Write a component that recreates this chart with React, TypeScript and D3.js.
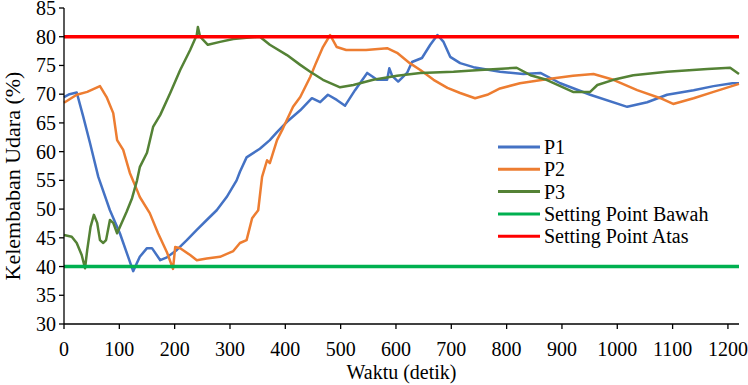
import * as d3 from 'd3';

const WIDTH = 748;
const HEIGHT = 385;
const MARGIN = { top: 8, right: 9, bottom: 61, left: 64 };
const FONT = 'Liberation Serif, serif';

// time (s), humidity (%)
const P1: [number, number][] = [
  [0, 69.5], [10, 70], [23, 70.3], [35, 66], [47, 61.5], [62, 55.6], [83, 49.8], [101, 45.8],
  [125, 39.2], [137, 41.7], [150, 43.2], [159, 43.2], [174, 41.1], [186, 41.6], [204, 42.9],
  [222, 44.6], [240, 46.4], [258, 48.1], [276, 49.8], [294, 52.1], [312, 55], [318, 56.5],
  [330, 59], [354, 60.5], [372, 62], [385, 63.4], [403, 65.2], [427, 67.2], [448, 69.3],
  [463, 68.6], [477, 69.9], [493, 69], [508, 68], [526, 70.7], [548, 73.7], [566, 72.5],
  [584, 72.5], [588, 74.5], [593, 73.2], [604, 72.2], [620, 73.7], [629, 75.6], [647, 76.3],
  [662, 78.6], [675, 80.3], [686, 79.1], [698, 76.5], [716, 75.4], [740, 74.7], [788, 73.9],
  [830, 73.5], [861, 73.7], [897, 71.9], [951, 69.9], [1018, 67.8], [1054, 68.6], [1090, 69.9],
  [1138, 70.7], [1174, 71.4], [1208, 71.9], [1220, 71.9],
];

const P2: [number, number][] = [
  [0, 68.5], [23, 69.9], [42, 70.4], [65, 71.4], [77, 69.5], [89, 66.7], [96, 62], [107, 60.3],
  [119, 56.3], [132, 53.3], [137, 52.1], [155, 49.3], [170, 45.8], [186, 42.5], [197, 39.6],
  [201, 43.4], [210, 43.2], [228, 42], [240, 41.1], [258, 41.4], [282, 41.7], [306, 42.7],
  [318, 44.1], [330, 44.6], [340, 48.4], [351, 49.8], [358, 55.6], [367, 58.5], [372, 58],
  [385, 62], [396, 64.1], [414, 67.8], [427, 69.5], [445, 73], [454, 75.1], [468, 78.2],
  [481, 80.3], [493, 78.2], [510, 77.7], [546, 77.7], [584, 78], [602, 77.2], [625, 75.4],
  [644, 74.2], [668, 72.5], [693, 71.1], [716, 70.2], [743, 69.3], [765, 69.9], [788, 71],
  [824, 71.9], [872, 72.6], [920, 73.2], [957, 73.5], [993, 72.5], [1036, 70.7], [1078, 69.3],
  [1101, 68.3], [1138, 69.3], [1174, 70.4], [1220, 71.8],
];

const P3: [number, number][] = [
  [0, 45.5], [14, 45.2], [23, 44.1], [32, 42], [38, 39.7], [42, 42.9], [48, 46.9], [54, 49],
  [60, 47.6], [65, 44.6], [71, 44.1], [76, 44.6], [83, 48.1], [89, 47.6], [96, 45.8], [101, 46.9],
  [113, 49.5], [123, 51.9], [132, 55], [137, 57.3], [150, 59.8], [161, 64.3], [174, 66.4],
  [192, 70.2], [210, 74.2], [228, 77.7], [240, 80.3], [242, 81.7], [246, 80], [260, 78.6],
  [282, 79.1], [306, 79.6], [330, 79.8], [354, 80], [372, 78.6], [403, 76.8], [427, 75.1],
  [445, 73.9], [468, 72.5], [499, 71.2], [523, 71.6], [559, 72.5], [602, 73.2], [644, 73.7],
  [704, 73.9], [752, 74.2], [818, 74.6], [843, 73.3], [872, 72.5], [920, 70.4], [951, 70.4],
  [964, 71.6], [993, 72.5], [1029, 73.3], [1090, 73.9], [1163, 74.4], [1204, 74.6], [1220, 73.5],
];

const SETPOINT_LOW = 40;
const SETPOINT_HIGH = 80;
const X_TICKS = [0, 100, 200, 300, 400, 500, 600, 700, 800, 900, 1000, 1100, 1200];
const Y_TICKS = [30, 35, 40, 45, 50, 55, 60, 65, 70, 75, 80, 85];

const SERIES = [
  { label: 'P1', data: P1, colour: '#4472C4' },
  { label: 'P2', data: P2, colour: '#ED7D31' },
  { label: 'P3', data: P3, colour: '#548235' },
];

const LEGEND = [
  { label: 'P1', colour: '#4472C4' },
  { label: 'P2', colour: '#ED7D31' },
  { label: 'P3', colour: '#548235' },
  { label: 'Setting Point Bawah', colour: '#00B050' },
  { label: 'Setting Point Atas', colour: '#FF0000' },
];

export default function App() {
  const innerW = WIDTH - MARGIN.left - MARGIN.right;
  const innerH = HEIGHT - MARGIN.top - MARGIN.bottom;

  const x = d3.scaleLinear().domain([0, 1220]).range([MARGIN.left, MARGIN.left + innerW]);
  const y = d3.scaleLinear().domain([30, 85]).range([MARGIN.top + innerH, MARGIN.top]);

  const line = d3.line<[number, number]>()
    .x(d => x(d[0]))
    .y(d => y(d[1]));

  const x0 = x(0);
  const x1 = x(1220);
  const yBase = y(30);

  return (
    <svg width={WIDTH} height={HEIGHT} fontFamily={FONT}
      style={{ position: 'absolute', left: 0, top: 0, background: '#fff' }}>
      {/* series */}
      {SERIES.map(s => (
        <path key={s.label} d={line(s.data) ?? ''} fill="none" stroke={s.colour}
          strokeWidth={2.5} strokeLinejoin="round" />
      ))}

      {/* set points */}
      <line x1={x0} x2={x1} y1={y(SETPOINT_LOW)} y2={y(SETPOINT_LOW)} stroke="#00B050" strokeWidth={3.5} />
      <line x1={x0} x2={x1} y1={y(SETPOINT_HIGH)} y2={y(SETPOINT_HIGH)} stroke="#FF0000" strokeWidth={3.5} />

      {/* axes */}
      <line x1={x0} x2={x0} y1={y(85)} y2={yBase} stroke="#000" strokeWidth={1.3} />
      <line x1={x0} x2={x1} y1={yBase} y2={yBase} stroke="#000" strokeWidth={1.3} />
      {Y_TICKS.map(t => (
        <line key={`yt${t}`} x1={x0 - 5} x2={x0} y1={y(t)} y2={y(t)} stroke="#000" strokeWidth={1.3} />
      ))}
      {Y_TICKS.map(t => (
        <text key={`yl${t}`} x={x0 - 8} y={y(t) + 7} textAnchor="end" fontSize={20}>{t}</text>
      ))}
      {X_TICKS.map(t => (
        <line key={`xt${t}`} x1={x(t)} x2={x(t)} y1={yBase} y2={yBase + 5} stroke="#000" strokeWidth={1.3} />
      ))}
      {X_TICKS.map(t => (
        <text key={`xl${t}`} x={x(t)} y={yBase + 32} textAnchor="middle" fontSize={20}>{t}</text>
      ))}

      <text x={(x0 + x1) / 2} y={379} textAnchor="middle" fontSize={20}>Waktu (detik)</text>
      <text transform={`translate(20,${(y(85) + yBase) / 2 + 10}) rotate(-90)`} textAnchor="middle"
        fontSize={22}>Kelembaban Udara (%)</text>

      {/* legend */}
      {LEGEND.map((l, i) => (
        <line key={`ll${l.label}`} x1={498} x2={540} y1={147 + i * 22.3} y2={147 + i * 22.3}
          stroke={l.colour} strokeWidth={3} />
      ))}
      {LEGEND.map((l, i) => (
        <text key={`lt${l.label}`} x={544} y={154 + i * 22.3} fontSize={20}>{l.label}</text>
      ))}
    </svg>
  );
}
